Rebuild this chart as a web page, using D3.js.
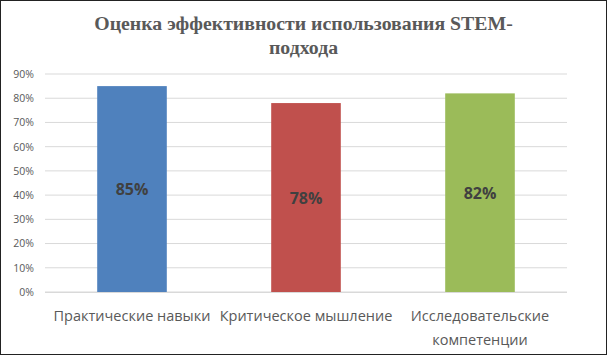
<!DOCTYPE html>
<html>
<head>
<meta charset="utf-8">
<script src="https://cdn.jsdelivr.net/npm/d3@7"></script>
<style>
  body { margin: 0; background: #fff; }
  #chart { width: 607px; height: 355px; }
</style>
</head>
<body>
<div id="chart"></div>
<script>
// chart data
const categories = ["Практические навыки", "Критическое мышление", "Исследовательские компетенции"];
const values = [0.85, 0.78, 0.82];
const barColors = ["#4F81BD", "#C0504D", "#9BBB59"];
const yTicks = [0, 0.1, 0.2, 0.3, 0.4, 0.5, 0.6, 0.7, 0.8, 0.9];
const titleLines = ["Оценка эффективности использования STEM-", "подхода"];

const W = 607, H = 355;
const margin = {top: 74, right: 40, bottom: 63, left: 45};
const width = W - margin.left - margin.right;
const height = H - margin.top - margin.bottom;

const svg = d3.select("#chart").append("svg")
    .attr("width", W)
    .attr("height", H);

// outer frame
svg.append("rect")
    .attr("x", 0.5).attr("y", 0.5)
    .attr("width", W - 1).attr("height", H - 1)
    .attr("fill", "#fff")
    .attr("stroke", "#222");

// title
svg.append("text")
    .attr("text-anchor", "middle")
    .attr("font-family", "'Liberation Serif', 'Times New Roman', serif")
    .attr("font-weight", "bold")
    .attr("font-size", 19.8)
    .attr("fill", "#595959")
    .selectAll("tspan")
    .data(titleLines)
    .join("tspan")
    .attr("x", W / 2)
    .attr("y", (d, i) => 30 + i * 24)
    .text(d => d);

const g = svg.append("g")
    .attr("transform", `translate(${margin.left},${margin.top})`);

const x = d3.scaleBand()
    .domain(categories)
    .range([0, width])
    .paddingInner(0.6)
    .paddingOuter(0.3);

const y = d3.scaleLinear()
    .domain([0, 0.9])
    .range([height, 0]);

// gridlines
g.append("g")
    .selectAll("line")
    .data(yTicks)
    .join("line")
    .attr("x1", 0).attr("x2", width)
    .attr("y1", d => y(d)).attr("y2", d => y(d))
    .attr("stroke", "#d9d9d9")
    .attr("stroke-width", 1);

// y axis labels
const yAxis = d3.axisLeft(y)
    .tickValues(yTicks)
    .tickFormat(d3.format(".0%"))
    .tickSize(0)
    .tickPadding(11);
g.append("g")
    .call(yAxis)
    .call(a => a.select(".domain").remove())
    .selectAll("text")
    .attr("font-family", "'Open Sans', sans-serif")
    .attr("font-size", 10.5)
    .attr("fill", "#595959");

// bars
g.selectAll(".bar")
    .data(values)
    .join("rect")
    .attr("class", "bar")
    .attr("x", (d, i) => x(categories[i]))
    .attr("y", d => y(d))
    .attr("width", x.bandwidth())
    .attr("height", d => height - y(d))
    .attr("fill", (d, i) => barColors[i]);

// value labels
g.selectAll(".val")
    .data(values)
    .join("text")
    .attr("class", "val")
    .attr("x", (d, i) => x(categories[i]) + x.bandwidth() / 2)
    .attr("y", d => (y(d) + height) / 2 + 6)
    .attr("text-anchor", "middle")
    .attr("font-family", "'Open Sans', sans-serif")
    .attr("font-weight", "bold")
    .attr("font-size", 16)
    .attr("fill", "#404040")
    .text(d => d3.format(".0%")(d));

// baseline
g.append("line")
    .attr("x1", 0).attr("x2", width)
    .attr("y1", height + 0.5).attr("y2", height + 0.5)
    .attr("stroke", "#d9d9d9");

// category labels (wrap the long one as in the original)
const catLines = [["Практические навыки"], ["Критическое мышление"], ["Исследовательские", "компетенции"]];
g.selectAll(".cat")
    .data(categories)
    .join("text")
    .attr("class", "cat")
    .attr("text-anchor", "middle")
    .attr("font-family", "'Open Sans', sans-serif")
    .attr("font-size", 14.5)
    .attr("fill", "#595959")
    .each(function(d, i) {
        d3.select(this).selectAll("tspan")
            .data(catLines[i])
            .join("tspan")
            .attr("x", x(d) + x.bandwidth() / 2)
            .attr("y", (t, j) => height + 29 + j * 24)
            .text(t => t);
    });
</script>
</body>
</html>
